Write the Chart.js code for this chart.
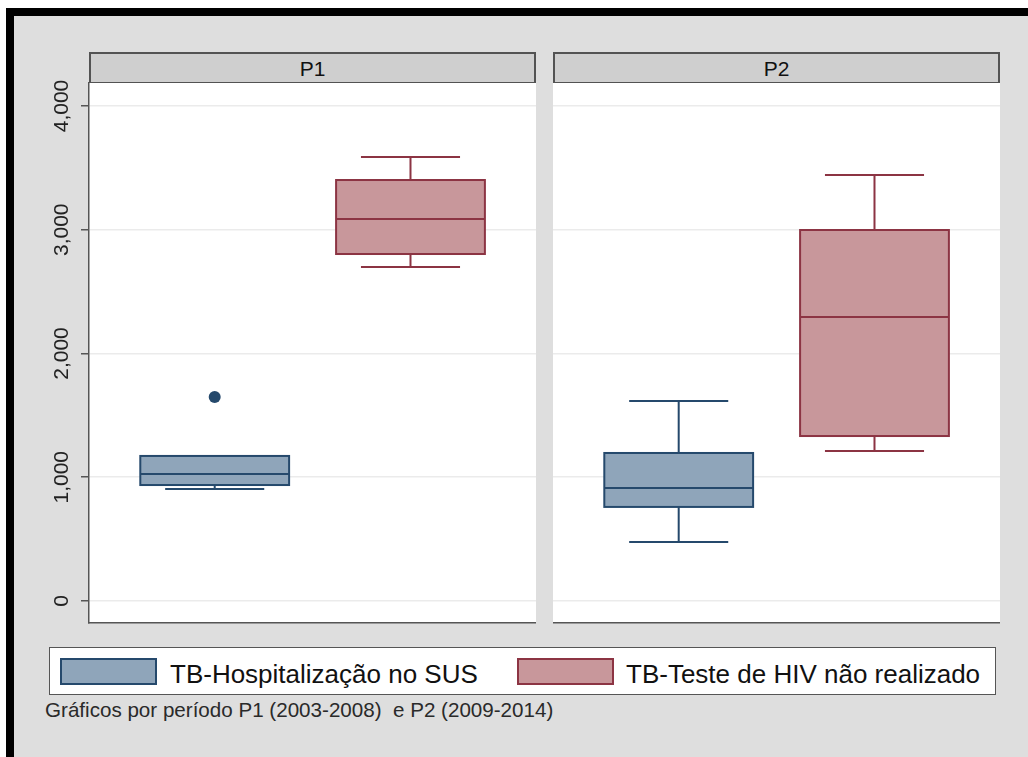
<!DOCTYPE html>
<html lang="pt">
<head>
<meta charset="utf-8">
<title>TB por período</title>
<script src="https://cdn.jsdelivr.net/npm/chart.js@4/dist/chart.umd.min.js"></script>
<style>
  html, body { margin: 0; padding: 0; }
  body {
    width: 1028px; height: 757px; position: relative; overflow: hidden;
    background: #ffffff;
    font-family: "Liberation Sans", Arial, sans-serif;
  }
  #frame { position: absolute; left: 6px; top: 8px; right: 0; bottom: 0; background: #000; }
  #bg { position: absolute; left: 14px; top: 16px; right: 0; bottom: 0; background: #dedede; }
  .strip {
    position: absolute; top: 52px; width: 447px; height: 31px; box-sizing: border-box;
    background: #cfcfcf; border: 2px solid #535353; border-bottom-width: 1.5px;
    display: flex; align-items: center; justify-content: center;
    font-size: 21px; line-height: 1; color: #111;
  }
  .panel { position: absolute; top: 52px; }
  #legend {
    position: absolute; left: 49px; top: 647px; width: 947px; height: 48px; box-sizing: border-box;
    background: #fff; border: 1.5px solid #555;
  }
  .sw { position: absolute; top: 10px; width: 97px; height: 27px; box-sizing: border-box; border: 2px solid; }
  .lt { position: absolute; top: 13px; font-size: 26px; line-height: 1; color: #111; white-space: nowrap; }
  #note { position: absolute; left: 45px; top: 700px; font-size: 20.6px; line-height: 1; color: #2a2a2a; white-space: pre; }
</style>
</head>
<body>
<div id="frame"></div>
<div id="bg"></div>

<div class="panel" style="left:14px;"><canvas id="c1" width="522" height="573"></canvas></div>
<div class="panel" style="left:553px;"><canvas id="c2" width="447" height="573"></canvas></div>

<div class="strip" id="strip1" style="left:89px;"></div>
<div class="strip" id="strip2" style="left:553px;"></div>

<div id="legend">
  <div class="sw" id="sw1" style="left:10px;"></div>
  <div class="lt" id="lt1" style="left:120px;"></div>
  <div class="sw" id="sw2" style="left:467px;"></div>
  <div class="lt" id="lt2" style="left:576px;"></div>
</div>
<div id="note"></div>

<script>
// Panels (periods) and the two series shown in each panel
const panels = ['P1', 'P2'];
const series = ['TB-Hospitalização no SUS', 'TB-Teste de HIV não realizado'];

// Five-number summaries: [lower whisker, Q1, median, Q3, upper whisker]
const hospP1 = [905, 937, 1026, 1172, 1172];
const hivP1  = [2699, 2804, 3087, 3402, 3588];
const hospP2 = [477, 760, 913, 1196, 1616];
const hivP2  = [1212, 1333, 2295, 2998, 3442];

// Values beyond the whiskers
const hospP1Outliers = [1648];
const hospP2Outliers = [];

// Y axis ticks and range
const yTicks = [0, 1000, 2000, 3000, 4000];
const yMin = -178;
const yMax = 4186;

const note = 'Gráficos por período P1 (2003-2008)  e P2 (2009-2014)';

// Styling
const FONT = '"Liberation Sans", Arial, sans-serif';
const colors = [
  { fill: '#8fa5ba', line: '#25496c' },
  { fill: '#c8979b', line: '#8c3443' }
];
const BOX_HALF = 0.38;
const CAP_HALF = 0.253;

// Text outside the canvases
document.getElementById('strip1').textContent = panels[0];
document.getElementById('strip2').textContent = panels[1];
document.getElementById('lt1').textContent = series[0];
document.getElementById('lt2').textContent = series[1];
document.getElementById('note').textContent = note;
['sw1', 'sw2'].forEach((id, i) => {
  const el = document.getElementById(id);
  el.style.background = colors[i].fill;
  el.style.borderColor = colors[i].line;
});

// White plotting region
const plotBackground = {
  id: 'plotBackground',
  beforeDraw(chart) {
    const { ctx, chartArea: a } = chart;
    ctx.save();
    ctx.fillStyle = '#ffffff';
    ctx.fillRect(a.left, a.top, a.right - a.left, a.bottom - a.top);
    ctx.restore();
  }
};

// Box-and-whisker drawing through the chart's scales
const boxWhisker = {
  id: 'boxWhisker',
  beforeDatasetsDraw(chart, args, opts) {
    const { ctx, scales: { x, y } } = chart;
    ctx.save();
    ctx.lineWidth = 2;
    opts.items.forEach(b => {
      const [lo, q1, med, q3, hi] = b.stats;
      const xl = x.getPixelForValue(b.pos - BOX_HALF);
      const xr = x.getPixelForValue(b.pos + BOX_HALF);
      const xc = x.getPixelForValue(b.pos);
      const cl = x.getPixelForValue(b.pos - CAP_HALF);
      const cr = x.getPixelForValue(b.pos + CAP_HALF);
      const yLo = y.getPixelForValue(lo), yQ1 = y.getPixelForValue(q1);
      const yMed = y.getPixelForValue(med), yQ3 = y.getPixelForValue(q3);
      const yHi = y.getPixelForValue(hi);
      ctx.strokeStyle = b.line;
      // whiskers and caps
      ctx.beginPath();
      ctx.moveTo(xc, yQ3); ctx.lineTo(xc, yHi);
      ctx.moveTo(xc, yQ1); ctx.lineTo(xc, yLo);
      if (hi > q3) { ctx.moveTo(cl, yHi); ctx.lineTo(cr, yHi); }
      ctx.moveTo(cl, yLo); ctx.lineTo(cr, yLo);
      ctx.stroke();
      // box
      ctx.fillStyle = b.fill;
      ctx.fillRect(xl, yQ3, xr - xl, yQ1 - yQ3);
      ctx.strokeRect(xl, yQ3, xr - xl, yQ1 - yQ3);
      // median
      ctx.beginPath();
      ctx.moveTo(xl, yMed); ctx.lineTo(xr, yMed);
      ctx.stroke();
    });
    ctx.restore();
  }
};

// Vertical tick labels on the left axis
const verticalTickLabels = {
  id: 'verticalTickLabels',
  afterDraw(chart, args, opts) {
    if (!opts.show) return;
    const { ctx, scales: { y } } = chart;
    ctx.save();
    ctx.fillStyle = '#222';
    ctx.font = '21px ' + FONT;
    ctx.textAlign = 'center';
    ctx.textBaseline = 'alphabetic';
    y.ticks.forEach(t => {
      const py = y.getPixelForValue(t.value);
      ctx.save();
      ctx.translate(y.right - 21, py);
      ctx.rotate(-Math.PI / 2);
      ctx.fillText(t.value.toLocaleString('en-US'), 0, 0);
      ctx.restore();
    });
    ctx.restore();
  }
};

function makePanel(canvasId, hosp, hiv, outliers, showAxis) {
  return new Chart(document.getElementById(canvasId), {
    type: 'scatter',
    data: {
      datasets: [{
        label: series[0],
        data: outliers.map(v => ({ x: 1, y: v })),
        pointRadius: 6,
        pointHoverRadius: 6,
        backgroundColor: colors[0].line,
        borderWidth: 0
      }]
    },
    options: {
      responsive: false,
      animation: false,
      events: [],
      layout: { autoPadding: false, padding: { top: 31, right: 0, bottom: 2, left: 0 } },
      scales: {
        x: {
          type: 'linear',
          min: 0.358,
          max: 2.641,
          ticks: { display: false },
          grid: { display: true, color: 'rgba(0,0,0,0)', drawTicks: false },
          border: { display: true, color: '#555', width: 1.5 }
        },
        y: {
          type: 'linear',
          position: 'left',
          min: yMin,
          max: yMax,
          afterBuildTicks: s => { s.ticks = yTicks.map(v => ({ value: v })); },
          afterFit: s => { s.width = showAxis ? 75 : 0; },
          ticks: { display: false },
          grid: {
            color: '#ebebeb',
            lineWidth: 1.5,
            drawTicks: showAxis,
            tickLength: 8,
            tickColor: '#555',
            tickWidth: 1.5
          },
          border: { display: showAxis, color: '#555', width: 1.5 }
        }
      },
      plugins: {
        legend: { display: false },
        tooltip: { enabled: false },
        boxWhisker: {
          items: [
            { pos: 1, stats: hosp, fill: colors[0].fill, line: colors[0].line },
            { pos: 2, stats: hiv, fill: colors[1].fill, line: colors[1].line }
          ]
        },
        verticalTickLabels: { show: showAxis }
      }
    },
    plugins: [plotBackground, boxWhisker, verticalTickLabels]
  });
}

makePanel('c1', hospP1, hivP1, hospP1Outliers, true);
makePanel('c2', hospP2, hivP2, hospP2Outliers, false);
</script>
</body>
</html>
